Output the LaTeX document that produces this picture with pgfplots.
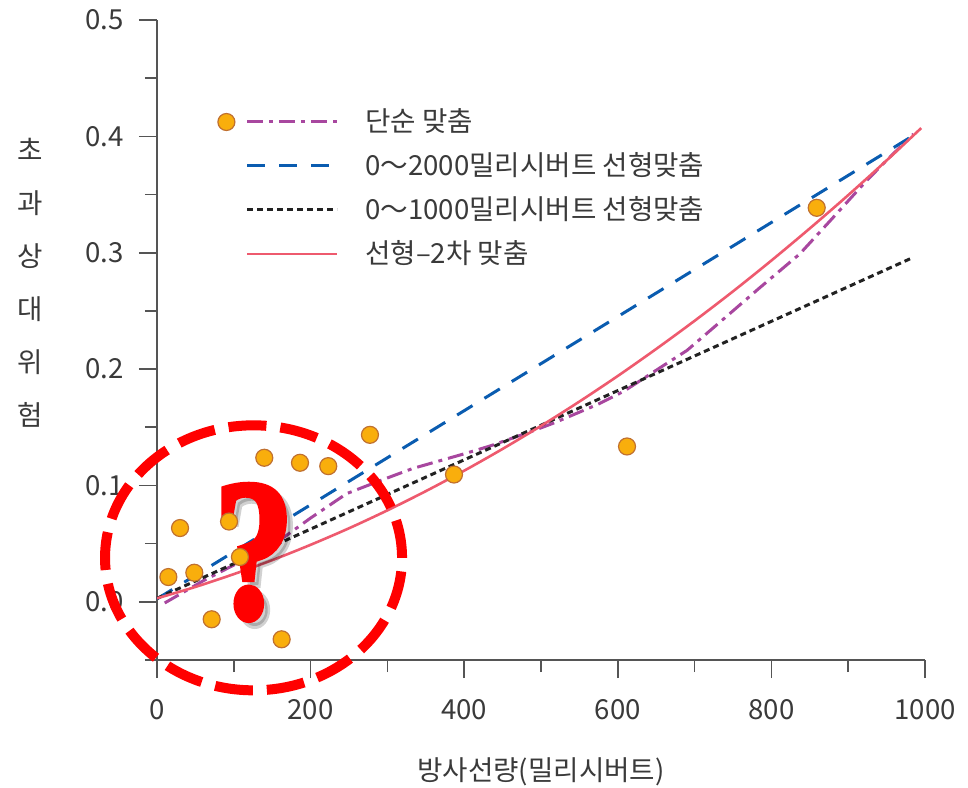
\documentclass[border=0pt]{standalone}
\usepackage{fontspec}
\setmainfont{Noto Sans CJK KR}
\newfontfamily\qfont[BoldFeatures={FakeBold=3}]{Liberation Serif}
\usepackage{pgfplots}
\pgfplotsset{compat=1.18}
\definecolor{txt}{HTML}{3A3A3A}
\definecolor{axc}{HTML}{555555}
\definecolor{cpurple}{HTML}{A8479F}
\definecolor{cblue}{HTML}{0A5CB0}
\definecolor{cblack}{HTML}{222222}
\definecolor{cred}{HTML}{EE5A6E}
\definecolor{mfill}{HTML}{F9AE0C}
\definecolor{medge}{HTML}{C07030}
\tikzset{qm/.style={font=\qfont\bfseries\fontsize{100}{100}\selectfont, xscale=0.8, inner sep=0pt}}

\pgfplotstableread{
x y
14.8 0.0213
30 0.0634
48.6 0.025
71.2 -0.015
93.8 0.069
108 0.0385
139.7 0.1238
162.3 -0.0322
186.2 0.1195
223 0.1166
277.3 0.1435
386.7 0.1094
612 0.1335
859 0.3386
}\pts

\pgfplotstableread{
x y
10 -0.001
60 0.018
110 0.035
160 0.053
200 0.072
247 0.093
290 0.104
333 0.1146
399 0.127
434 0.134
490 0.147
518 0.154
575 0.170
608 0.181
664 0.205
690 0.216
720 0.233
785 0.270
837 0.299
880 0.330
924 0.362
954 0.382
985 0.402
}\simple

\pgfplotstableread{
x y
0 0.0025
983 0.400
}\lintwo

\pgfplotstableread{
x y
0 0.003
983 0.2955
}\linone

\pgfplotstableread{
x y
0 0.003
50 0.0128
100 0.0238
150 0.0358
200 0.0490
250 0.0632
300 0.0786
350 0.0951
400 0.1127
450 0.1314
500 0.1512
550 0.1721
600 0.1941
650 0.2173
700 0.2415
750 0.2668
800 0.2933
850 0.3209
900 0.3495
950 0.3793
995 0.4071
}\quad

\begin{document}
\begin{tikzpicture}
\useasboundingbox (-78.5pt,-63.5pt) rectangle (405.5pt,330pt);
\begin{axis}[
  scale only axis, width=384pt, height=320pt,
  xmin=0, xmax=1000, ymin=-0.05, ymax=0.5,
  clip=false,
  axis x line*=bottom, axis y line*=left,
  axis line style={axc, line width=0.8pt},
  tick align=outside,
  major tick length=9pt, minor tick length=6pt,
  every tick/.style={axc, line width=0.8pt},
  xtick={0,200,400,600,800,1000}, minor xtick={100,300,500,700,900},
  ytick={0,0.1,0.2,0.3,0.4,0.5}, minor ytick={-0.05,0.05,0.15,0.25,0.35,0.45},
  /pgf/number format/assume math mode=true,
  /pgf/number format/1000 sep={},
  yticklabel style={/pgf/number format/.cd, fixed, fixed zerofill, precision=1, /tikz/.cd, xshift=-4pt},
  xticklabel style={yshift=-7pt},
  ticklabel style={font=\fontsize{13.8}{16}\selectfont, text=txt},
  xlabel={방사선량(밀리시버트)},
  xlabel style={at={(axis description cs:0.5,-0.175)}, anchor=center, font=\fontsize{13.8}{16}\selectfont, text=txt},
  ylabel={초\\과\\상\\대\\위\\험},
  ylabel style={rotate=-90, align=center, at={(axis description cs:-0.165,0.589)}, anchor=center, font=\fontsize{13.8}{26.5}\selectfont, text=txt},
  legend cell align=left,
  legend style={at={(axis description cs:0.078,0.86)}, anchor=north west, draw=none, fill=none,
    inner sep=0pt, row sep=10pt, column sep=0pt,
    font=\fontsize{13.8}{16}\selectfont, text=txt,
    nodes={inner sep=0pt, text height=11pt, text depth=1pt}},
  legend image code/.code={\path[draw=none, fill=none] (-15pt,-4pt) rectangle (59pt,4pt); \draw[#1] (0pt,0pt) -- (45pt,0pt);},
]
\addplot[cpurple, line width=1.5pt, dash pattern=on 8pt off 3pt on 2pt off 3pt,
  legend image code/.code={\path[draw=none, fill=none] (-15pt,-4pt) rectangle (59pt,4pt);
    \draw[cpurple, line width=1.5pt, dash pattern=on 8pt off 3pt on 2pt off 3pt] (0pt,0pt) -- (45pt,0pt);
    \draw[fill=mfill, draw=medge, line width=0.6pt, solid] (-10.5pt,0pt) circle (4.25pt);}]
  table[x=x,y=y] {\simple};
\addlegendentry{단순 맞춤}
\addplot[cblue, line width=1.5pt, dash pattern=on 9pt off 7pt] table[x=x,y=y] {\lintwo};
\addlegendentry{0～2000밀리시버트 선형맞춤}
\addplot[cblack, line width=1.5pt, dash pattern=on 3pt off 2pt] table[x=x,y=y] {\linone};
\addlegendentry{0～1000밀리시버트 선형맞춤}
\addplot[cred, line width=1.3pt, smooth] table[x=x,y=y] {\quad};
\addlegendentry{선형–2차 맞춤}
\addplot[only marks, mark=*, mark size=4.25pt, mark options={fill=mfill, draw=medge, line width=0.6pt}, forget plot]
  table[x=x,y=y] {\pts};
\draw[red, line width=5pt, dash pattern=on 19pt off 7pt] (axis cs:125.7,0.0378) ellipse [x radius=74.25pt, y radius=66.25pt];
\node[qm, text=black, opacity=0.18] at ([xshift=3pt,yshift=-3pt]axis cs:126.3,0.0425) {?};
\node[qm, text=red] at (axis cs:126.3,0.0425) {?};
\end{axis}
\end{tikzpicture}
\end{document}
